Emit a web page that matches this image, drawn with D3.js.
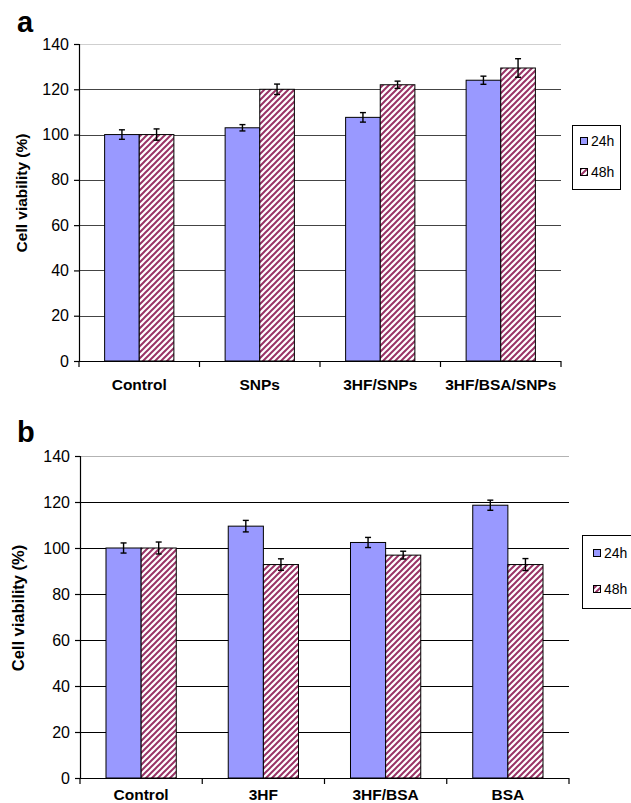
<!DOCTYPE html>
<html><head><meta charset="utf-8">
<script src="https://cdn.jsdelivr.net/npm/d3@7/dist/d3.min.js"></script>
<style>
html,body{margin:0;padding:0;background:#fff;}
svg text{font-family:"Liberation Sans",Arial,Helvetica,sans-serif;}
</style></head>
<body>
<svg id="chart" width="631" height="803"></svg>
<script>
// ---- data ----
const seriesNames = ["24h", "48h"];
const yTicks = [0, 20, 40, 60, 80, 100, 120, 140];
const yAxisTitle = "Cell viability (%)";

const categoriesA = ["Control", "SNPs", "3HF/SNPs", "3HF/BSA/SNPs"];
const values24hA = [100, 103, 107.6, 124];
const values48hA = [100, 120, 122, 129.4];
const errors24hA = [2.1, 1.4, 2.1, 1.8];
const errors48hA = [2.5, 2.3, 1.6, 4.1];

const categoriesB = ["Control", "3HF", "3HF/BSA", "BSA"];
const values24hB = [100, 109.5, 102.4, 118.6];
const values48hB = [100, 92.8, 96.9, 92.8];
const errors24hB = [2.2, 2.5, 2.2, 2.2];
const errors48hB = [2.6, 2.5, 1.7, 2.6];

// ---- drawing ----
const svg = d3.select("#chart");
const defs = svg.append("defs");
const blue = "#9999ff";
const maroon = "#993366";

function makePattern(id) {
  const p = defs.append("pattern").attr("id", id)
    .attr("patternUnits", "userSpaceOnUse").attr("width", 6).attr("height", 6);
  p.append("rect").attr("width", 6).attr("height", 6).attr("fill", "#fff");
  p.append("path").attr("d", "M-1,1 l2,-2 M0,6 l6,-6 M5,7 l2,-2")
    .attr("stroke", maroon).attr("stroke-width", 2).attr("fill", "none");
}

function drawPanel(cfg) {
  const g = svg.append("g");
  const patId = "hatch" + cfg.letter;
  makePattern(patId);
  const y = d3.scaleLinear().domain([0, 140]).range([cfg.bottom, cfg.top]);
  const x0 = d3.scaleBand().domain(cfg.categories).range([cfg.left, cfg.right]);
  const x1 = d3.scaleBand().domain(seriesNames).range([0, x0.bandwidth()])
    .paddingInner(0).paddingOuter(0.74);

  // gridlines
  g.append("g").selectAll("line").data(yTicks.filter(d => d > 0)).join("line")
    .attr("x1", cfg.left).attr("x2", cfg.right)
    .attr("y1", d => Math.round(y(d)) + 0.5).attr("y2", d => Math.round(y(d)) + 0.5)
    .attr("stroke", d => d === 140 ? cfg.topGrid : cfg.grid).attr("stroke-width", 1.2);

  // bars
  const rows = cfg.categories.map((c, i) => [
    {cat: c, s: "24h", v: cfg.v24[i], e: cfg.e24[i]},
    {cat: c, s: "48h", v: cfg.v48[i], e: cfg.e48[i]}
  ]).flat();
  g.append("g").selectAll("rect").data(rows).join("rect")
    .attr("x", d => x0(d.cat) + x1(d.s))
    .attr("width", x1.bandwidth())
    .attr("y", d => y(d.v))
    .attr("height", d => y(0) - y(d.v))
    .attr("fill", d => d.s === "24h" ? blue : `url(#${patId})`)
    .attr("stroke", "#000").attr("stroke-width", 1);

  // error bars
  const eb = g.append("g").attr("stroke", "#000").attr("stroke-width", 1.4);
  rows.forEach(d => {
    const cx = x0(d.cat) + x1(d.s) + x1.bandwidth() / 2;
    eb.append("line").attr("x1", cx).attr("x2", cx).attr("y1", y(d.v + d.e)).attr("y2", y(d.v - d.e));
    eb.append("line").attr("x1", cx - 3).attr("x2", cx + 3).attr("y1", y(d.v + d.e)).attr("y2", y(d.v + d.e));
    eb.append("line").attr("x1", cx - 3).attr("x2", cx + 3).attr("y1", y(d.v - d.e)).attr("y2", y(d.v - d.e));
  });

  // y axis
  const ya = g.append("g").attr("transform", `translate(${cfg.left},0)`)
    .call(d3.axisLeft(y).tickValues(yTicks).tickSize(5).tickPadding(5));
  ya.select(".domain").attr("stroke", "#000").attr("stroke-width", 1.2).attr("d", `M0.5,${cfg.top}V${cfg.bottom}`);
  ya.selectAll(".tick line").attr("stroke", "#000").attr("stroke-width", 1.2);
  ya.selectAll(".tick text").attr("font-size", 16).attr("fill", "#000")
    .attr("font-family", "'Liberation Sans', Arial, sans-serif");

  // x axis
  const xa = g.append("g").attr("transform", `translate(0,${cfg.bottom})`);
  xa.append("line").attr("x1", cfg.left).attr("x2", cfg.right).attr("y1", 0.5).attr("y2", 0.5)
    .attr("stroke", "#000").attr("stroke-width", 1.2);
  const bounds = cfg.categories.map(c => x0(c)).concat([cfg.right]);
  xa.selectAll("line.tk").data(bounds).join("line").attr("class", "tk")
    .attr("x1", d => d).attr("x2", d => d).attr("y1", 0).attr("y2", 6)
    .attr("stroke", "#000").attr("stroke-width", 1.2);
  xa.selectAll("text").data(cfg.categories).join("text")
    .attr("x", d => x0(d) + x0.bandwidth() / 2)
    .attr("y", cfg.labelDy)
    .attr("text-anchor", "middle").attr("font-weight", "bold").attr("font-size", 15.5)
    .text(d => d);

  // y title
  g.append("text")
    .attr("transform", `translate(${cfg.titleX},${cfg.titleY}) rotate(-90)`)
    .attr("text-anchor", "middle").attr("font-weight", "bold").attr("font-size", cfg.titleSize)
    .text(yAxisTitle);

  // panel letter
  g.append("text").attr("x", 17).attr("y", cfg.letterY)
    .attr("font-weight", "bold").attr("font-size", 29).text(cfg.letter);

  // legend
  const L = cfg.legend;
  g.append("rect").attr("x", L.x + 0.5).attr("y", L.y + 0.5).attr("width", L.w).attr("height", L.h)
    .attr("fill", "#fff").attr("stroke", "#000").attr("stroke-width", 1);
  seriesNames.forEach((s, i) => {
    const yy = L.y + L.first + i * L.gap;
    g.append("rect").attr("x", L.x + L.sq + 0.5).attr("y", yy - 8.5).attr("width", 7).attr("height", 7)
      .attr("fill", s === "24h" ? blue : `url(#${patId})`).attr("stroke", "#000").attr("stroke-width", 1);
    g.append("text").attr("x", L.x + L.sq + 11).attr("y", yy).attr("font-size", 14).text(s);
  });
}

drawPanel({
  letter: "a", letterY: 32,
  categories: categoriesA, v24: values24hA, v48: values48hA, e24: errors24hA, e48: errors48hA,
  left: 79, right: 561, top: 44, bottom: 361, labelDy: 29,
  titleX: 27, titleY: 193, titleSize: 15.5,
  grid: "#444", topGrid: "#cfcfcf",
  legend: {x: 572, y: 125, w: 48, h: 64, first: 21, gap: 31, sq: 8}
});
drawPanel({
  letter: "b", letterY: 442,
  categories: categoriesB, v24: values24hB, v48: values48hB, e24: errors24hB, e48: errors48hB,
  left: 80, right: 569, top: 456, bottom: 778, labelDy: 22,
  titleX: 24, titleY: 608, titleSize: 16.5,
  grid: "#000", topGrid: "#b3b3b3",
  legend: {x: 582, y: 535, w: 60, h: 73, first: 23, gap: 36, sq: 11}
});
</script>
</body></html>
